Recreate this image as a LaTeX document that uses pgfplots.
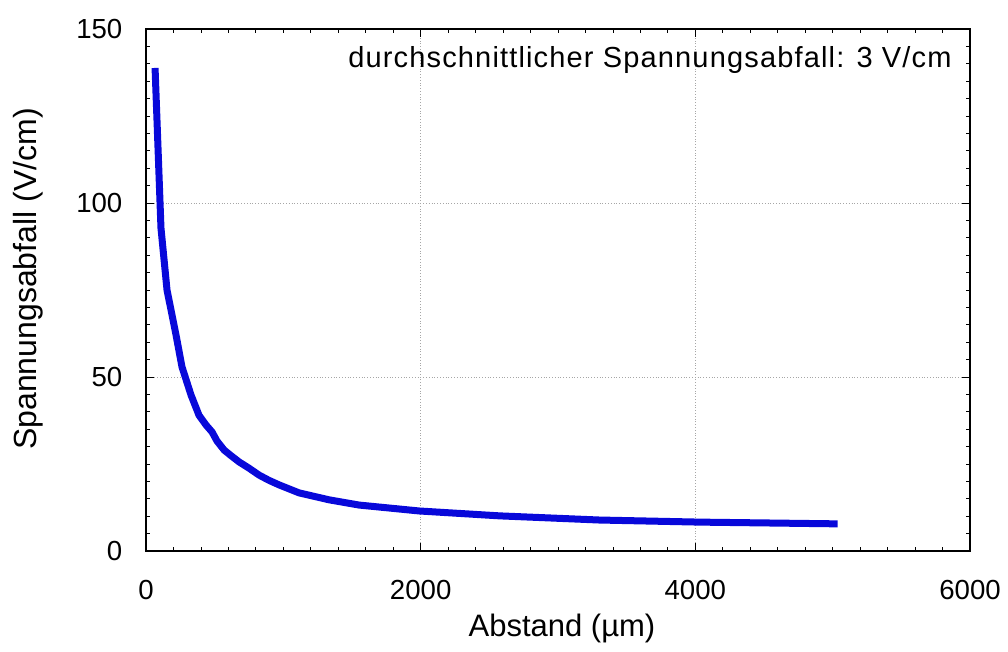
\documentclass[border=0pt]{standalone}
\usepackage{fontspec}
\setmainfont{Liberation Sans}
\usepackage{pgfplots}
\pgfplotsset{compat=1.18}
\definecolor{curveblue}{RGB}{8,8,218}
\begin{document}
\begin{tikzpicture}
\begin{axis}[
  width=412pt, height=261pt, scale only axis,
  xmin=0, xmax=6000, ymin=0, ymax=150,
  xtick={0,2000,4000,6000}, ytick={0,50,100,150},
  minor x tick num=9, minor y tick num=9,
  tick align=inside,
  major tick length=4pt, minor tick length=2.2pt,
  grid=major,
  major grid style={densely dotted, gray!70, line width=0.4pt},
  axis line style={line width=0.6pt},
  every tick/.style={black, line width=0.4pt},
  scaled ticks=false,
  /pgf/number format/assume math mode=true,
  /pgf/number format/1000 sep={},
  tick label style={font=\fontsize{13.8}{16}\selectfont},
  xticklabel style={yshift=-11pt},
  yticklabel style={xshift=-8.3pt},
  xlabel={Abstand (µm)},
  ylabel={Spannungsabfall (V/cm)},
  xlabel style={font=\fontsize{15.5}{18}\selectfont, at={(axis description cs:0.5,0)}, anchor=north, yshift=-28pt, xshift=2pt},
  ylabel style={font=\fontsize{16}{19}\selectfont, at={(axis description cs:0,0.5)}, anchor=south, yshift=48pt, xshift=5.5pt},
  clip=false,
]
\addplot[curveblue, line width=3.5pt, line join=round] coordinates {
(66,138.8) (109,92.8) (153,75) (219,62) (262,52.9) (328,44.8) (386,39)
(437,36.2) (481,34.2) (517,31.6) (569,29) (619,27.4) (678,25.6) (750,23.8)
(824,21.8) (896,20.3) (969,19) (1115,16.7) (1334,14.7)
(1552,13.2) (1990,11.5) (2573,10.1) (3302,8.9) (4031,8.3) (5036,7.8)
};
\node[anchor=base east, inner sep=0pt, font=\fontsize{14.5}{16}\selectfont\addfontfeature{LetterSpace=4}] at (axis cs:5869,138.8) {durchschnittlicher Spannungsabfall: 3 V/cm};
\end{axis}
\pgfresetboundingbox
\path (current axis.south west) ++(-73pt,-50pt);
\path (current axis.north east) ++(19pt,14.5pt);
\end{tikzpicture}
\end{document}
